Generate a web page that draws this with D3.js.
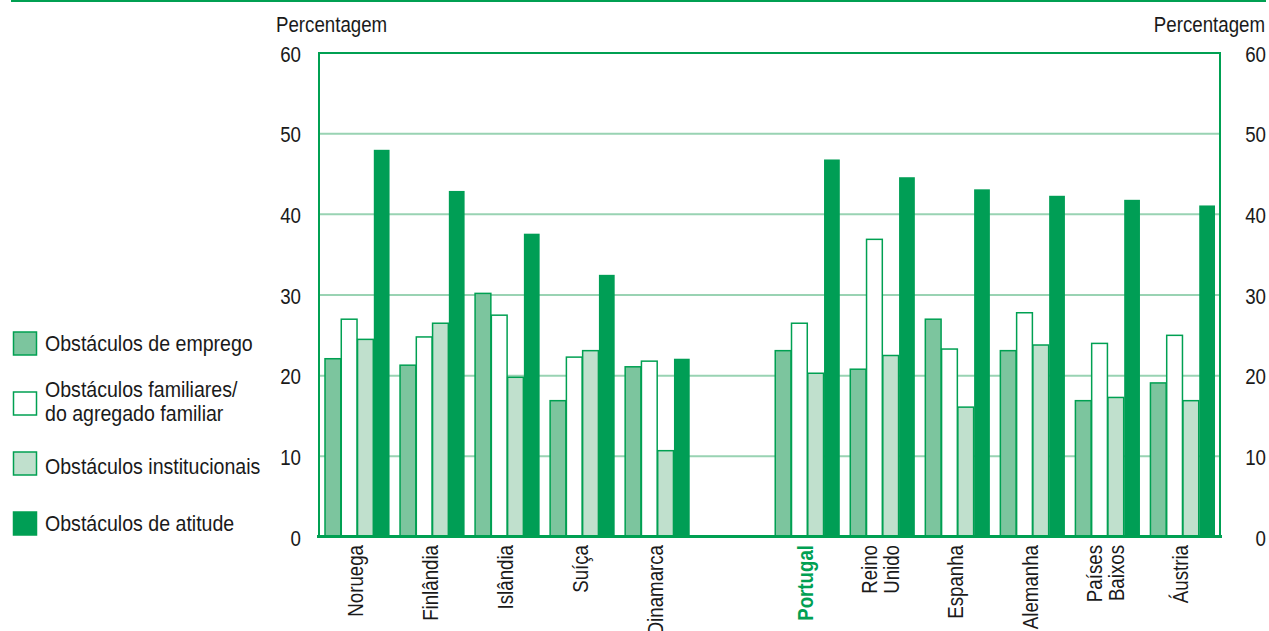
<!DOCTYPE html>
<html>
<head>
<meta charset="utf-8">
<script src="https://cdn.jsdelivr.net/npm/d3@7"></script>
<style>
  html, body { margin: 0; padding: 0; background: #fff; }
  svg { display: block; }
  text { font-family: "Liberation Sans", Arial, sans-serif; fill: #1a1a1a; }
</style>
</head>
<body>
<svg id="chart" width="1269" height="631"></svg>
<script>
// ---- data ----
const countries = ["Noruega", "Finlândia", "Islândia", "Suíça", "Dinamarca", "",
                   "Portugal", "Reino\nUnido", "Espanha", "Alemanha", "Países\nBaixos", "Áustria"];
const seriesNames = ["Obstáculos de emprego", "Obstáculos familiares/\ndo agregado familiar",
                     "Obstáculos institucionais", "Obstáculos de atitude"];
const emprego       = [22.1, 21.3, 30.2, 16.9, 21.1, null, 23.1, 20.8, 27.0, 23.1, 16.9, 19.1];
const familiares    = [27.0, 24.8, 27.5, 22.3, 21.8, null, 26.5, 36.9, 23.3, 27.8, 24.0, 25.0];
const institucional = [24.5, 26.5, 19.8, 23.1, 10.7, null, 20.3, 22.5, 16.1, 23.8, 17.3, 16.9];
const atitude       = [48.0, 42.9, 37.6, 32.5, 22.1, null, 46.8, 44.6, 43.1, 42.3, 41.8, 41.1];
const yTicks = [0, 10, 20, 30, 40, 50, 60];
const axisTitle = "Percentagem";

// ---- styles ----
const green = "#00a052";
const fills = ["#7cc59e", "#ffffff", "#c0e0cd", "#009e55"];
const gridColor = "#99d3b3";
const FS = 22, SX = 0.85;   // condensed look via horizontal scaling

const svg = d3.select("#chart");
const pLeft = 319, pRight = 1220, pTop = 53, pBottom = 537;

const x = d3.scaleBand().domain(countries.map((c, i) => i)).range([pLeft, pRight])
  .paddingInner(0.133).paddingOuter(0.07);
const x1 = d3.scaleBand().domain([0, 1, 2, 3]).range([0, x.bandwidth()]);
const y = d3.scaleLinear().domain([0, 60]).range([pBottom, pTop]);

function label(g, tx, ty, str, opts = {}) {
  const rot = opts.rotate ? " rotate(-90)" : "";
  const sx = opts.sx || SX;
  const t = g.append("text")
    .attr("transform", `translate(${tx},${ty})${rot} scale(${sx},1)`)
    .attr("font-size", opts.fs || FS)
    .attr("text-anchor", opts.anchor || "start")
    .text(str);
  if (opts.bold) t.attr("font-weight", "bold");
  if (opts.fill) t.style("fill", opts.fill);
  return t;
}

// top decorative line
svg.append("line").attr("x1", 11).attr("x2", 1266).attr("y1", 1).attr("y2", 1)
  .attr("stroke", green).attr("stroke-width", 2.2);

// gridlines
svg.append("g").selectAll("line").data(yTicks.filter(t => t > 0 && t < 60)).join("line")
  .attr("x1", pLeft).attr("x2", pRight)
  .attr("y1", d => y(d)).attr("y2", d => y(d))
  .attr("stroke", gridColor).attr("stroke-width", 2);

// frame: top, left, right
svg.append("path")
  .attr("d", `M${pLeft},${pBottom} L${pLeft},${y(60)} L${pRight},${y(60)} L${pRight},${pBottom}`)
  .attr("fill", "none").attr("stroke", green).attr("stroke-width", 2);

// bars
const series = [emprego, familiares, institucional, atitude];
const barData = [];
countries.forEach((c, i) => {
  series.forEach((s, k) => {
    if (s[i] != null) barData.push({ i, k, v: s[i] });
  });
});
svg.append("g").selectAll("rect").data(barData).join("rect")
  .attr("x", d => x(d.i) + x1(d.k) + 0.75)
  .attr("width", x1.bandwidth() - 0.5)
  .attr("y", d => y(d.v))
  .attr("height", d => y(0) - y(d.v))
  .attr("fill", d => fills[d.k])
  .attr("stroke", green)
  .attr("stroke-width", d => d.k === 3 ? 0 : 1.5);

// bottom axis line
svg.append("line").attr("x1", pLeft - 2).attr("x2", pRight + 2)
  .attr("y1", pBottom - 0.5).attr("y2", pBottom - 0.5)
  .attr("stroke", green).attr("stroke-width", 3);

// y tick labels (left and right)
const yl = svg.append("g");
yTicks.forEach(t => {
  label(yl, 301, y(t) + 8.5, String(t), { anchor: "end" });
  label(yl, 1266, y(t) + 8.5, String(t), { anchor: "end" });
});
label(svg, 276, 32, axisTitle);
label(svg, 1265, 32, axisTitle, { anchor: "end" });

// x labels (rotated)
const xl = svg.append("g");
countries.forEach((c, i) => {
  if (!c) return;
  const lines = c.split("\n");
  const cx = x(i) + x.bandwidth() / 2;
  const n = lines.length;
  lines.forEach((ln, j) => {
    const off = (j - (n - 1) / 2) * 21.5 + 6;
    const isPT = c === "Portugal";
    label(xl, cx + off, 545, ln, { rotate: true, anchor: "end", bold: isPT, fill: isPT ? green : null });
  });
});

// legend
const legendY = [332, 392, 452, 512];
const legendBase = [[350.5], [396.5, 420.5], [473.5], [531]];
const leg = svg.append("g");
seriesNames.forEach((name, k) => {
  leg.append("rect").attr("x", 13.5).attr("y", legendY[k]).attr("width", 23).attr("height", 23)
    .attr("fill", fills[k]).attr("stroke", green).attr("stroke-width", 1.5);
  name.split("\n").forEach((ln, j) => label(leg, 45, legendBase[k][j], ln, { sx: 0.87, fs: 22.5 }));
});
</script>
</body>
</html>
